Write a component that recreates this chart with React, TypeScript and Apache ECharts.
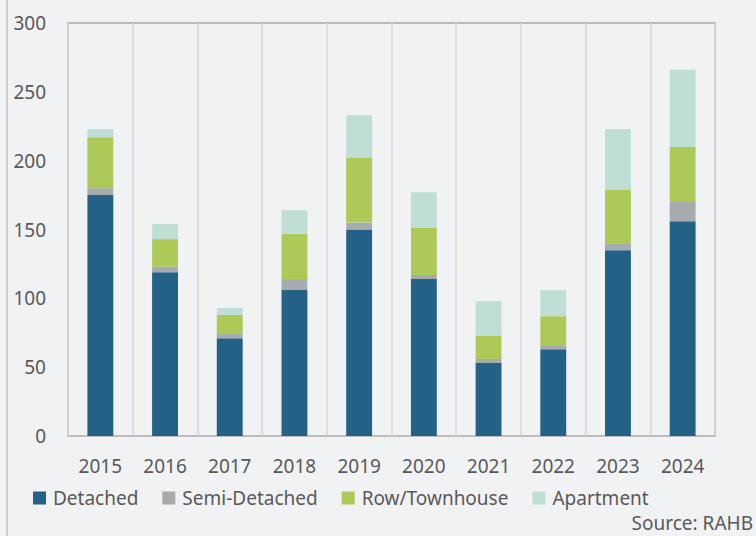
import React, { useEffect, useRef } from "react";
import * as echarts from "echarts";

const years = ["2015", "2016", "2017", "2018", "2019", "2020", "2021", "2022", "2023", "2024"];
const detached = [175, 119, 71, 106, 150, 114, 53, 63, 135, 156];
const semiDetached = [5, 4, 3, 8, 5, 3, 3, 3, 5, 14];
const rowTownhouse = [37, 20, 14, 33, 47, 34, 17, 21, 39, 40];
const apartment = [6, 11, 5, 17, 31, 26, 25, 19, 44, 56];
const yTicks = [0, 50, 100, 150, 200, 250, 300];

const FONT = "Noto Sans";
const TXT = "#595959";

export default function App() {
  const ref = useRef<HTMLDivElement>(null);
  useEffect(() => {
    const chart = echarts.init(ref.current!, null, { renderer: "svg" });
    const mk = (name: string, data: number[], color: string) => ({
      name,
      type: "bar",
      stack: "total",
      data,
      barWidth: "40%",
      itemStyle: { color },
    });
    chart.setOption({
      animation: false,
      backgroundColor: "#f1f2f4",
      textStyle: { fontFamily: FONT },
      grid: {
        left: 68,
        right: 41,
        top: 23,
        bottom: 100,
        show: true,
        borderColor: "#a6a6a6",
        borderWidth: 1.5,
        backgroundColor: "transparent",
      },
      legend: {
        left: 33,
        top: 488,
        padding: 0,
        itemWidth: 13,
        itemHeight: 13,
        itemGap: 24,
        icon: "rect",
        textStyle: { fontFamily: FONT, fontSize: 19, color: TXT, padding: [0, 0, 0, 2], lineHeight: 20 },
        data: ["Detached", "Semi-Detached", "Row/Townhouse", "Apartment"],
      },
      xAxis: {
        type: "category",
        data: years,
        axisLine: { show: true, lineStyle: { color: "#bfbfbf", width: 1.5 } },
        axisTick: { show: false },
        splitLine: { show: true, lineStyle: { color: "#d9d9d9", width: 1.5 } },
        axisLabel: { fontFamily: FONT, fontSize: 19, color: TXT, margin: 20 },
      },
      yAxis: {
        type: "value",
        min: yTicks[0],
        max: yTicks[yTicks.length - 1],
        interval: 50,
        splitLine: { show: false },
        axisLine: { show: false },
        axisTick: { show: false },
        axisLabel: { fontFamily: FONT, fontSize: 19, color: TXT, margin: 22 },
      },
      graphic: [
        {
          type: "line",
          shape: { x1: 7, y1: 0, x2: 7, y2: 536 },
          style: { stroke: "#bfbfbf", lineWidth: 1.5 },
        },
        {
          type: "text",
          right: 3,
          top: 513,
          style: { text: "Source: RAHB", font: `19px "${FONT}"`, fill: TXT },
        },
      ],
      series: [
        mk("Detached", detached, "#236187"),
        mk("Semi-Detached", semiDetached, "#a7abae"),
        mk("Row/Townhouse", rowTownhouse, "#adc958"),
        mk("Apartment", apartment, "#bfdfd5"),
      ],
    });
    return () => chart.dispose();
  }, []);
  return <div ref={ref} style={{ width: 756, height: 536, position: "fixed", left: 0, top: 0 }} />;
}
